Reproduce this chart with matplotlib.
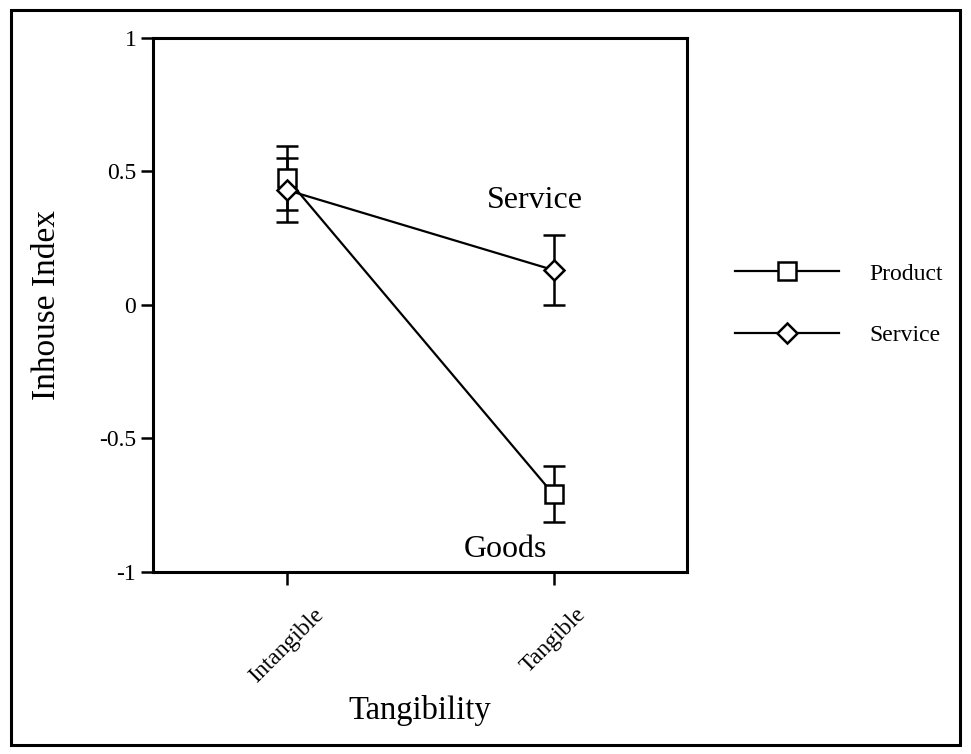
import numpy as np
import matplotlib
matplotlib.use("Agg")
from matplotlib import pyplot as plt
from matplotlib.patches import Rectangle

# data
categories = ["Intangible", "Tangible"]
product_mean = [0.475, -0.71]
product_err = [0.12, 0.105]
service_mean = [0.43, 0.13]
service_err = [0.12, 0.13]
yticks = [-1, -0.5, 0, 0.5, 1]
ytick_labels = ["-1", "-0.5", "0", "0.5", "1"]

plt.rcParams['font.family'] = ['Liberation Serif', 'DejaVu Serif']

fig = plt.figure(figsize=(9.71, 7.54), dpi=100)
# outer frame round the whole picture
fig.patches.append(Rectangle((0.011, 0.012), 0.978, 0.975, transform=fig.transFigure,
                             fill=False, lw=2.2, ec='black'))

ax = fig.add_axes([0.1576, 0.2415, 0.55, 0.7085])
x = np.arange(len(categories))

ax.errorbar(x, product_mean, yerr=product_err, color='black', lw=1.6,
            marker='s', ms=12.5, mfc='white', mec='black', mew=1.8,
            capsize=8, capthick=1.8, elinewidth=1.8, label='Product', zorder=3)
ax.errorbar(x, service_mean, yerr=service_err, color='black', lw=1.6,
            marker='D', ms=10, mfc='white', mec='black', mew=1.8,
            capsize=8, capthick=1.8, elinewidth=1.8, label='Service', zorder=3)

ax.text(0.93, 0.39, "Service", fontsize=23, ha='center', va='center')
ax.text(0.82, -0.915, "Goods", fontsize=23, ha='center', va='center')

ax.set_xlim(-0.5, 1.5)
ax.set_ylim(-1, 1)
ax.set_xticks(x)
ax.set_xticklabels(categories, rotation=45, ha='center', va='top', fontsize=17)
ax.set_yticks(yticks)
ax.set_yticklabels(ytick_labels, fontsize=17)
ax.tick_params(axis='both', direction='out', length=9, width=1.8, color='black')
ax.tick_params(axis='y', pad=3)
ax.tick_params(axis='x', pad=14)
for s in ax.spines.values():
    s.set_linewidth(2.2)

ax.set_xlabel("Tangibility", fontsize=23.5, labelpad=6)
ax.set_ylabel("Inhouse Index", fontsize=24, labelpad=27)

h, l = ax.get_legend_handles_labels()
h = [hh[0] for hh in h]
leg = ax.legend(h, l, loc='center left', bbox_to_anchor=(1.05, 0.5), frameon=False,
                fontsize=17, handlelength=4.4, handletextpad=1.3, labelspacing=1.7)

fig.savefig("out.png", dpi=100)
